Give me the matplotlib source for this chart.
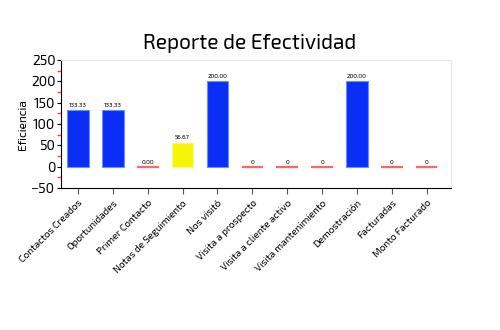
import matplotlib
matplotlib.use('Agg')
import matplotlib.pyplot as plt
import numpy as np
from matplotlib.ticker import MultipleLocator

categories = ['Contactos Creados', 'Oportunidades', 'Primer Contacto', 'Notas de Seguimiento',
              'Nos visitó', 'Visita a prospecto', 'Visita a cliente activo',
              'Visita mantenimiento', 'Demostración', 'Facturadas', 'Monto Facturado']
values = [133.33, 133.33, 0, 56.67, 200, 0, 0, 0, 200, 0, 0]
labels = ['133.33', '133.33', '0.00', '56.67', '200.00', '0', '0', '0', '200.00', '0', '0']
colors = ['#0a2ef5', '#0a2ef5', '#ff6666', '#f5f50a', '#0a2ef5', '#ff6666',
          '#ff6666', '#ff6666', '#0a2ef5', '#ff6666', '#ff6666']

plt.rcParams['font.family'] = ['Exo 2', 'DejaVu Sans']

fig = plt.figure(figsize=(5, 3.3), dpi=100)
ax = fig.add_axes([0.122, 0.43, 0.78, 0.388])

x = np.arange(len(categories))
for i, v in enumerate(values):
    if v == 0:
        # empty categories are drawn as a flat red line
        ax.plot([i - 0.31, i + 0.31], [0, 0], color=colors[i], lw=1.6, solid_capstyle='butt')
    else:
        edge = '#fafa80' if colors[i] == '#f5f50a' else '#6f8cff'
        ax.bar(i, v, width=0.62, color=colors[i], edgecolor=edge, lw=0.8)
    ax.text(i, v + 5, labels[i], ha='center', va='bottom', fontsize=4.5)

ax.set_xlim(-0.49, 10.7)
ax.set_ylim(-50, 250)
ax.yaxis.set_major_locator(MultipleLocator(50))
ax.yaxis.set_minor_locator(MultipleLocator(25))
ax.tick_params(axis='y', which='minor', colors='#ff4444', length=3, width=1.0)
ax.tick_params(axis='y', which='major', labelsize=10, length=3, pad=1)
ax.tick_params(axis='x', length=4, color='#555555')
ax.set_xticks(x)
ax.set_xticklabels(categories, rotation=45, ha='right', rotation_mode='anchor', fontsize=7.2)
ax.set_ylabel('Eficiencia', fontsize=8.5, labelpad=2)
for s in ['top', 'right']:
    ax.spines[s].set_color('#e6e6e6')
fig.text(0.5, 0.867, 'Reporte de Efectividad', ha='center', va='center', fontsize=15)

fig.savefig('out.png')
